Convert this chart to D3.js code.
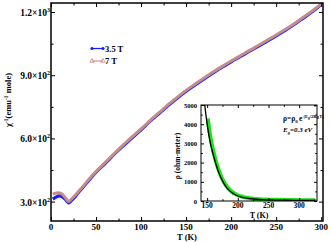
<!DOCTYPE html>
<html>
<head>
<meta charset="utf-8">
<script src="https://cdn.jsdelivr.net/npm/d3@7"></script>
<style>
  body { margin: 0; background: #fff; }
  svg text { font-family: 'Liberation Serif', 'Times New Roman', serif; font-weight: bold; fill: #000; }
</style>
</head>
<body>
<div id="chart"></div>
<script>
// main panel: inverse susceptibility vs temperature
const temps = [2, 5, 8, 10, 12, 14, 16, 18, 19.5, 21, 25, 30, 35, 40, 45, 50, 60, 70, 80, 90, 100, 110, 120, 130, 140, 150,
  160, 170, 180, 190, 200, 210, 220, 230, 240, 250, 260, 270, 280, 290, 300];
const chi7T = [336, 340, 342, 341, 336, 328, 318, 306, 300, 305, 322, 346, 370, 395, 420, 443, 485, 527, 568, 607, 645, 685, 722, 760, 795, 828,
  858, 887, 915, 942, 968, 992, 1017, 1041, 1066, 1091, 1117, 1145, 1175, 1205, 1238];
const chi35T = [312, 320, 326, 327, 324, 318, 310, 300, 294, 298, 315, 341, 366, 391, 416, 440, 481, 524, 564, 603, 641, 682, 718, 756, 791, 824,
  854, 883, 911, 938, 964, 988, 1013, 1037, 1062, 1087, 1113, 1141, 1171, 1201, 1236];

// inset: resistivity vs temperature
const insetT = [151, 155, 160, 165, 170, 175, 180, 185, 190, 200, 210, 220, 230, 240, 250, 260, 280, 300, 326];
const rhoData = [4300, 3400, 2600, 2000, 1500, 1130, 850, 640, 490, 300, 200, 140, 100, 80, 70, 60, 50, 45, 40];
const fitT = [145, 148, 150, 155, 160, 165, 170, 175, 180, 185, 190, 195, 200, 210, 220, 230, 240, 260, 280, 300, 326];
const rhoFit = [5300, 4500, 4000, 3050, 2400, 1850, 1400, 1050, 780, 580, 440, 340, 260, 170, 120, 90, 70, 50, 40, 35, 30];

const xTicks = [0, 50, 100, 150, 200, 250, 300];
const xMinor = [25, 75, 125, 175, 225, 275];
const yTicks = [300, 600, 900, 1200];
const yMinor = [450, 750, 1050];
const yLabels = [['3.0×10', '2'], ['6.0×10', '2'], ['9.0×10', '2'], ['1.2×10', '3']];
const ixTicks = [150, 200, 250, 300];
const ixMinor = [175, 225, 275, 325];
const iyTicks = [0, 1000, 2000, 3000, 4000, 5000];
const iyMinor = [500, 1500, 2500, 3500, 4500];

const W = 332, H = 242;
const m = { left: 51, right: 323, top: 3, bottom: 221 };
const inset = { left: 201, right: 317, top: 105, bottom: 201 };

const svg = d3.select('#chart').append('svg')
  .attr('width', W).attr('height', H);

const x = d3.scaleLinear().domain([0, 302]).range([m.left, m.right]);
const y = d3.scaleLinear().domain([208, 1243]).range([m.bottom, m.top]);
const ix = d3.scaleLinear().domain([140, 329]).range([inset.left, inset.right]);
const iy = d3.scaleLinear().domain([0, 5000]).range([inset.bottom, inset.top]);

// draw inward ticks on all four sides of a box
function ticks(g, xs, ys, box, xv, yv, len) {
  g.append('g').attr('transform', `translate(0,${box.bottom})`)
    .call(d3.axisBottom(xs).tickValues(xv).tickSize(-len).tickFormat(''));
  g.append('g').attr('transform', `translate(0,${box.top})`)
    .call(d3.axisTop(xs).tickValues(xv).tickSize(-len).tickFormat(''));
  g.append('g').attr('transform', `translate(${box.left},0)`)
    .call(d3.axisLeft(ys).tickValues(yv).tickSize(-len).tickFormat(''));
  g.append('g').attr('transform', `translate(${box.right},0)`)
    .call(d3.axisRight(ys).tickValues(yv).tickSize(-len).tickFormat(''));
  g.selectAll('.domain').remove();
  g.selectAll('line').attr('stroke', '#000').attr('stroke-width', 1);
}

const main = svg.append('g');
main.append('defs').append('clipPath').attr('id', 'clipMain')
  .append('rect').attr('x', m.left).attr('y', m.top)
  .attr('width', m.right - m.left).attr('height', m.bottom - m.top);

const line = d3.line().x(d => x(d[0])).y(d => y(d[1])).curve(d3.curveMonotoneX);

main.append('path')
  .datum(temps.map((t, i) => [t, chi35T[i]]))
  .attr('d', line).attr('fill', 'none')
  .attr('stroke', '#1a1aff').attr('stroke-width', 3.2)
  .attr('clip-path', 'url(#clipMain)');
main.append('path')
  .datum(temps.map((t, i) => [t, chi7T[i]]))
  .attr('d', line).attr('fill', 'none')
  .attr('stroke', '#c48d8d').attr('stroke-width', 3)
  .attr('clip-path', 'url(#clipMain)');

ticks(main.append('g'), x, y, m, xTicks, yTicks, 4);
ticks(main.append('g'), x, y, m, xMinor, yMinor, 2.5);

main.append('rect')
  .attr('x', m.left).attr('y', m.top)
  .attr('width', m.right - m.left).attr('height', m.bottom - m.top)
  .attr('fill', 'none').attr('stroke', '#000').attr('stroke-width', 1.5);

main.selectAll('.xl').data(xTicks).enter().append('text')
  .attr('x', d => x(d)).attr('y', 229.5)
  .attr('text-anchor', 'middle').attr('font-size', 9)
  .text(d => d);

const yl = main.selectAll('.yl').data(yTicks).enter().append('text')
  .attr('x', 50).attr('y', d => y(d) + 4)
  .attr('text-anchor', 'end').attr('font-size', 9.5);
yl.append('tspan').text((d, i) => yLabels[i][0]);
yl.append('tspan').attr('dy', -4).attr('font-size', 6).text((d, i) => yLabels[i][1]);

main.append('text')
  .attr('x', 187).attr('y', 240)
  .attr('text-anchor', 'middle').attr('font-size', 8.5)
  .text('T (K)');

const yt = main.append('text')
  .attr('transform', 'translate(11,100) rotate(-90)')
  .attr('text-anchor', 'middle').attr('font-size', 8.5);
yt.append('tspan').text('χ');
yt.append('tspan').attr('dy', -3).attr('font-size', 5.5).text('-1');
yt.append('tspan').attr('dy', 3).text('(emu');
yt.append('tspan').attr('dy', -3).attr('font-size', 5.5).text('-1');
yt.append('tspan').attr('dy', 3).text(' mole)');

// legend
const legend = main.append('g');
legend.append('line').attr('x1', 92).attr('x2', 103).attr('y1', 48.5).attr('y2', 48.5)
  .attr('stroke', '#1a1aff').attr('stroke-width', 1.2);
legend.selectAll('.lc').data([92, 103]).enter().append('circle')
  .attr('cx', d => d).attr('cy', 48.5).attr('r', 1.6).attr('fill', '#1a1aff');
legend.append('text').attr('x', 105).attr('y', 51.5).attr('font-size', 8.5).text('3.5 T');
legend.append('line').attr('x1', 92).attr('x2', 103).attr('y1', 61).attr('y2', 61)
  .attr('stroke', '#d08080').attr('stroke-width', 1);
legend.selectAll('.lt').data([92, 103]).enter().append('path')
  .attr('transform', d => `translate(${d},61)`)
  .attr('d', d3.symbol(d3.symbolTriangle, 8))
  .attr('fill', 'none').attr('stroke', '#d08080').attr('stroke-width', 0.8);
legend.append('text').attr('x', 105).attr('y', 64).attr('font-size', 8.5).text('7 T');

// inset
const ins = svg.append('g');
ins.append('rect')
  .attr('x', inset.left).attr('y', inset.top)
  .attr('width', inset.right - inset.left).attr('height', inset.bottom - inset.top)
  .attr('fill', '#fff');
ins.append('defs').append('clipPath').attr('id', 'clipIns')
  .append('rect').attr('x', inset.left).attr('y', inset.top)
  .attr('width', inset.right - inset.left).attr('height', inset.bottom - inset.top);

const iline = d3.line().x(d => ix(d[0])).y(d => iy(d[1])).curve(d3.curveMonotoneX);
ins.append('path')
  .datum(insetT.map((t, i) => [t, rhoData[i]]))
  .attr('d', iline).attr('fill', 'none')
  .attr('stroke', '#1ee01e').attr('stroke-width', 4)
  .attr('clip-path', 'url(#clipIns)');
ins.append('path')
  .datum(fitT.map((t, i) => [t, rhoFit[i]]))
  .attr('d', iline).attr('fill', 'none')
  .attr('stroke', '#000').attr('stroke-width', 1.3)
  .attr('clip-path', 'url(#clipIns)');

ticks(ins.append('g'), ix, iy, inset, ixTicks, iyTicks, 3);
ticks(ins.append('g'), ix, iy, inset, ixMinor.filter(d => d < 329), iyMinor, 1.8);

ins.append('rect')
  .attr('x', inset.left).attr('y', inset.top)
  .attr('width', inset.right - inset.left).attr('height', inset.bottom - inset.top)
  .attr('fill', 'none').attr('stroke', '#000').attr('stroke-width', 1);

ins.selectAll('.ixl').data(ixTicks).enter().append('text')
  .attr('x', d => ix(d)).attr('y', 208)
  .attr('text-anchor', 'middle').attr('font-size', 7.5)
  .text(d => d);
ins.selectAll('.iyl').data(iyTicks).enter().append('text')
  .attr('x', 197).attr('y', d => iy(d) + 2.5)
  .attr('text-anchor', 'end').attr('font-size', 6.5)
  .text(d => d);
ins.append('text')
  .attr('x', 259).attr('y', 218)
  .attr('text-anchor', 'middle').attr('font-size', 8)
  .text('T (K)');
ins.append('text')
  .attr('transform', 'translate(180,156) rotate(-90)')
  .attr('text-anchor', 'middle').attr('font-size', 7.5).attr('font-weight', 'normal')
  .text('ρ (ohm-meter)');

const eq = ins.append('text').attr('x', 283).attr('y', 121)
  .attr('font-size', 7.5).attr('font-weight', 'normal');
eq.append('tspan').text('ρ=ρ');
eq.append('tspan').attr('dy', 1.5).attr('font-size', 5).text('0 ');
eq.append('tspan').attr('dy', -1.5).text('e');
eq.append('tspan').attr('dy', -3).attr('font-size', 4.5).text(' (E');
eq.append('tspan').attr('dy', 1).attr('font-size', 3.5).text('g');
eq.append('tspan').attr('dy', -1).attr('font-size', 4.5).text('/2K');
eq.append('tspan').attr('dy', 1).attr('font-size', 3.5).text('B');
eq.append('tspan').attr('dy', -1).attr('font-size', 4.5).text('T)');

const eg = ins.append('text').attr('x', 283).attr('y', 132)
  .attr('font-size', 7).attr('font-style', 'italic');
eg.append('tspan').text('E');
eg.append('tspan').attr('dy', 1.5).attr('font-size', 4.5).text('g');
eg.append('tspan').attr('dy', -1.5).text('=0.3 eV');
</script>
</body>
</html>
